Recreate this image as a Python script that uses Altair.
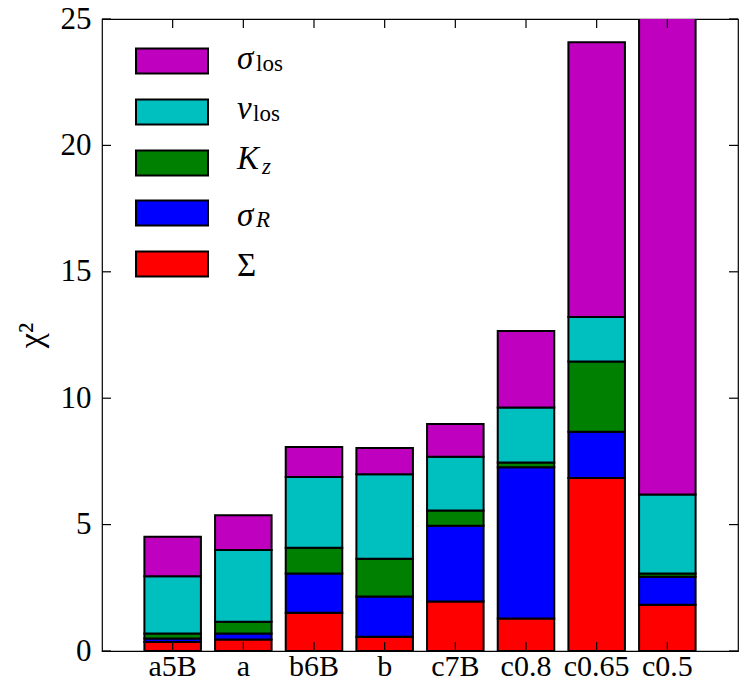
import altair as alt
import pandas as pd

# ---- data ----
categories = ["a5B", "a", "b6B", "b", "c7B", "c0.8", "c0.65", "c0.5"]
sigma_surf = [0.36, 0.45, 1.51, 0.56, 1.96, 1.29, 6.84, 1.83]   # Σ
sigma_R = [0.13, 0.24, 1.56, 1.60, 2.99, 5.98, 1.83, 1.11]      # σ_R
K_z = [0.20, 0.47, 1.01, 1.49, 0.61, 0.19, 2.78, 0.13]          # K_z
v_los = [2.27, 2.84, 2.80, 3.34, 2.12, 2.17, 1.76, 3.12]        # v_los
sigma_los = [1.56, 1.37, 1.19, 1.04, 1.30, 3.03, 10.87, 21.50]  # σ_los (last one clipped)

components = ["Sigma", "sigma_R", "K_z", "v_los", "sigma_los"]
colors = ["#ff0000", "#0000ff", "#008000", "#00bfbf", "#bf00bf"]
series = [sigma_surf, sigma_R, K_z, v_los, sigma_los]
y_ticks = [0, 5, 10, 15, 20, 25]

FONT = "Liberation Serif"
W, H = 636, 632

rows = []
for i, c in enumerate(categories):
    for k, (name, vals) in enumerate(zip(components, series)):
        rows.append({"cat": c, "comp": name, "order": k, "value": vals[i]})
df = pd.DataFrame(rows)

xscale = alt.Scale(domain=categories, paddingInner=0.2, paddingOuter=0.6)
yscale = alt.Scale(domain=[0, 25], nice=False, zero=True)

xaxis = alt.Axis(title=None, ticks=False, domain=False, grid=False,
                 labelAngle=0, labelFont=FONT, labelFontSize=30,
                 labelColor="black", labelPadding=0,
                 labelOverlap=False, labelBound=False)
yaxis = alt.Axis(values=y_ticks, title="χ²", ticks=False, domain=False,
                 grid=False, labelFont=FONT, labelFontSize=31,
                 labelColor="black", labelPadding=11, labelFlush=False,
                 labelOverlap=False, titleFont=FONT, titleFontSize=34,
                 titleFontWeight="normal", titleColor="black",
                 titlePadding=12)

bars = alt.Chart(df).mark_bar(stroke="black", strokeWidth=2, clip=True).encode(
    x=alt.X("cat:N", scale=xscale, sort=categories, axis=xaxis),
    y=alt.Y("value:Q", stack="zero", scale=yscale, axis=yaxis),
    color=alt.Color("comp:N", scale=alt.Scale(domain=components, range=colors),
                    legend=None),
    order=alt.Order("order:Q"),
)

tick_df = pd.DataFrame({"t": y_ticks})
cat_df = pd.DataFrame({"cat": categories})
tick_style = dict(color="black", strokeWidth=1.2)

yt_left = alt.Chart(tick_df).mark_rule(**tick_style).encode(
    y=alt.Y("t:Q", scale=yscale, axis=yaxis), x=alt.value(0), x2=alt.value(9))
yt_right = alt.Chart(tick_df).mark_rule(**tick_style).encode(
    y=alt.Y("t:Q", scale=yscale, axis=yaxis), x=alt.value(W), x2=alt.value(W - 9))
xt_bottom = alt.Chart(cat_df).mark_rule(**tick_style).encode(
    x=alt.X("cat:N", scale=xscale, sort=categories, axis=xaxis),
    y=alt.value(H), y2=alt.value(H - 9))
xt_top = alt.Chart(cat_df).mark_rule(**tick_style).encode(
    x=alt.X("cat:N", scale=xscale, sort=categories, axis=xaxis),
    y=alt.value(0), y2=alt.value(9))

# ---- manual legend (top to bottom) ----
legend_main = ["σ", "v", "K", "σ", "Σ"]
legend_sub = ["los", "los", "z", "R", ""]
legend_sub_italic = [False, False, True, True, False]
legend_main_italic = [True, True, True, True, False]
legend_colors = ["#bf00bf", "#00bfbf", "#008000", "#0000ff", "#ff0000"]
row_centers = [42, 93, 144, 194, 245]
main_base = [50.3, 100.3, 150.3, 207, 257]
sub_x = [154, 151, 160, 154, 0]
sub_base = [52, 102, 155.3, 208, 0]

one = pd.DataFrame({"k": [0]})
legend_layers = []
for i in range(5):
    yc = row_centers[i]
    legend_layers.append(
        alt.Chart(one).mark_rect(fill=legend_colors[i], stroke="black", strokeWidth=2).encode(
            x=alt.value(34), x2=alt.value(106), y=alt.value(yc - 12.5), y2=alt.value(yc + 12.5)))
    legend_layers.append(
        alt.Chart(one).mark_text(font=FONT, fontSize=33, align="left", baseline="alphabetic",
                                 fontStyle="italic" if legend_main_italic[i] else "normal",
                                 color="black").encode(
            x=alt.value(135), y=alt.value(main_base[i]), text=alt.value(legend_main[i])))
    if legend_sub[i]:
        legend_layers.append(
            alt.Chart(one).mark_text(font=FONT, fontSize=23, align="left", baseline="alphabetic",
                                     fontStyle="italic" if legend_sub_italic[i] else "normal",
                                     color="black").encode(
                x=alt.value(sub_x[i]), y=alt.value(sub_base[i]), text=alt.value(legend_sub[i])))

chart = alt.layer(bars, yt_left, yt_right, xt_bottom, xt_top, *legend_layers).properties(
    width=W, height=H, autosize="none",
    padding={"left": 94, "top": 11, "right": 1, "bottom": 31},
    background="white",
).configure_view(stroke="black", strokeWidth=1.2)

chart.save("out.html", embed_options={"renderer": "svg", "actions": False})
